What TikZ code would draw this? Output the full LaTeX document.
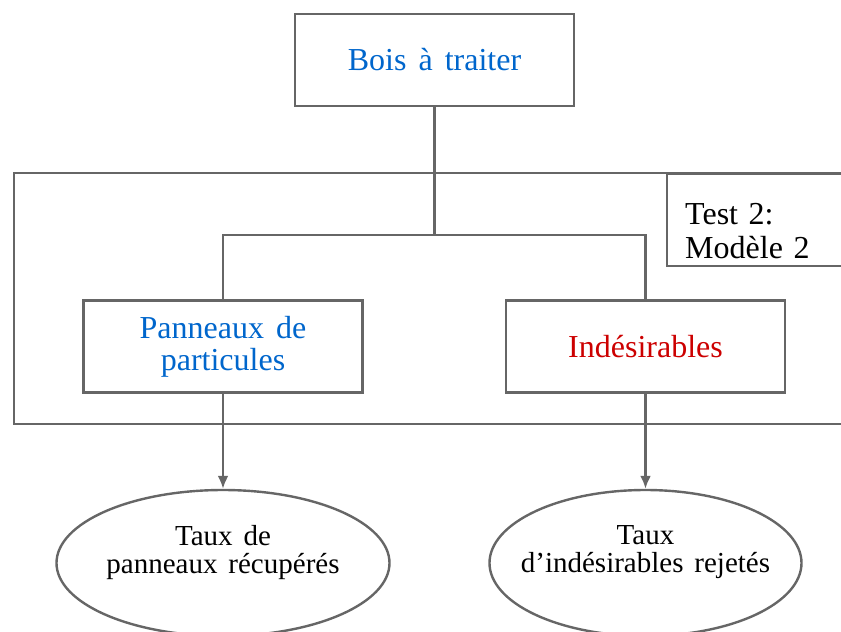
\documentclass[tikz,border=0pt]{standalone}
\usepackage{fontspec}
\setmainfont{Liberation Serif}[WordSpace=1.5]
\usetikzlibrary{arrows.meta,positioning,shapes.geometric}
\definecolor{edge}{HTML}{666666}
\definecolor{bleu}{HTML}{0066CC}
\definecolor{rouge}{HTML}{CC0000}

\begin{document}
\begin{tikzpicture}[
 x=0.5pt,y=-0.5pt,
 box/.style={draw=edge,line width=1.2pt,minimum width=139.5pt,minimum height=46pt,align=center,font=\fontsize{16}{16}\selectfont},
 result/.style={ellipse,draw=edge,line width=1.2pt,minimum width=166.5pt,minimum height=73pt,align=center,inner xsep=-12pt,inner ysep=0pt,font=\fontsize{14.5}{14}\selectfont},
 frame/.style={draw=edge,line width=1.2pt},
 link/.style={draw=edge,line width=1.2pt},
 arrow/.style={-{Latex[length=6.5pt,width=5.5pt]},draw=edge,line width=1.2pt}
]
\useasboundingbox (0,0) rectangle (841,632);
\draw[frame] (14,173) rectangle (900,424);
\node[frame,anchor=north west,minimum width=130pt,minimum height=46pt,text width=112pt,align=left,inner xsep=9pt,font=\fontsize{16}{17}\selectfont] (test) at (666,173) {\rule{0pt}{21pt}Test 2:\\Modèle 2};
\node[box,text=bleu] (bois) at (434.5,60) {Bois à traiter};
\coordinate (split) at (434.5,235);
\node[box,text=bleu] (panneaux) at (223,346.5) {Panneaux de\\particules};
\node[box,text=rouge] (indesir) at (645.5,346.5) {Indésirables};
\node[result] (tauxp) at (223,563) {Taux de\\panneaux récupérés\\~};
\node[result,minimum width=156pt] (tauxi) at (645.5,563) {Taux\\d’indésirables rejetés\\~};
\draw[link] (bois) -- (split);
\draw[link] (split) -| (panneaux);
\draw[link] (split) -| (indesir);
\draw[arrow] (panneaux) -- (tauxp);
\draw[arrow] (indesir) -- (tauxi);
\end{tikzpicture}
\end{document}
